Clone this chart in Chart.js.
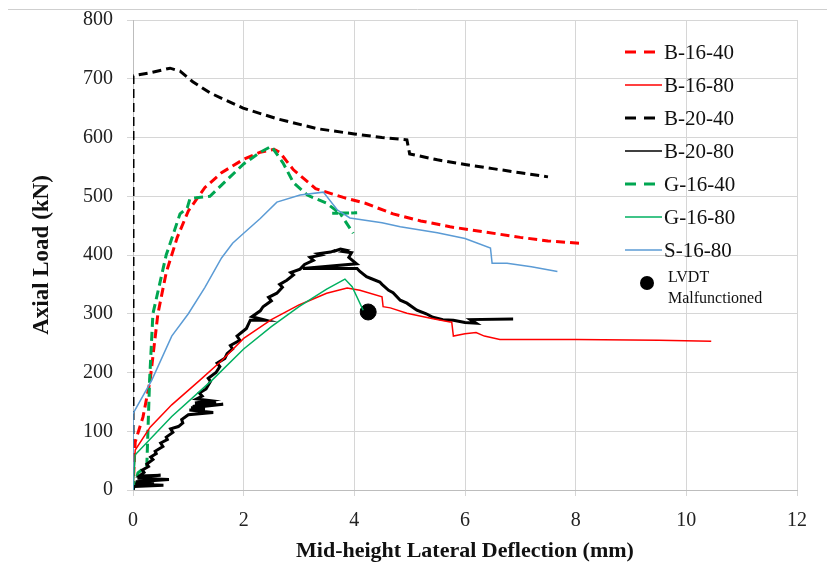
<!DOCTYPE html>
<html>
<head>
<meta charset="utf-8">
<script src="https://cdn.jsdelivr.net/npm/chart.js@4/dist/chart.umd.min.js"></script>
<style>
  body { margin: 0; background: #fff; }
  #wrap { width: 827px; height: 570px; }
</style>
</head>
<body>
<div id="wrap"><canvas id="loadChart" width="827" height="570"></canvas></div>
<script>
// axis ticks
const xTicks = [0, 2, 4, 6, 8, 10, 12];
const yTicks = [0, 100, 200, 300, 400, 500, 600, 700, 800];

// B-16-40 (red dashed)
const b1640X = [0, 0.04, 0.18, 0.31, 0.45, 0.6, 0.8, 1.0, 1.3, 1.6, 2.0, 2.3, 2.55, 2.65, 2.9, 3.3, 3.8, 4.2, 4.7, 5.2, 5.73, 6.3, 7.0, 7.5, 8.08];
const b1640Y = [0, 82, 124, 187, 300, 370, 430, 475, 515, 540, 563, 575, 580, 575, 545, 513, 498, 488, 470, 458, 448, 440, 430, 424, 420];

// B-16-80 (red solid)
const b1680X = [0, 0.04, 0.31, 0.7, 1.21, 1.6, 2.0, 2.5, 3.0, 3.5, 3.87, 4.1, 4.5, 4.52, 4.65, 4.95, 5.4, 5.73, 5.76, 5.79, 6.0, 6.2, 6.35, 6.63, 8.0, 9.5, 10.45];
const b1680Y = [0, 68, 107, 145, 187, 220, 258, 290, 315, 335, 344, 340, 329, 312, 310, 301, 292, 286, 286, 262, 266, 268, 262, 256, 256, 255, 253];

// B-20-40 (black dashed)
const b2040X = [0, 0, 0.3, 0.67, 0.85, 1.08, 1.39, 1.99, 2.6, 3.33, 4.0, 4.5, 4.95, 5.0, 5.5, 6.0, 6.5, 7.0, 7.5];
const b2040Y = [0, 705, 710, 718, 713, 695, 676, 650, 632, 615, 606, 600, 596, 572, 562, 554, 547, 540, 533];

// B-20-80 (black solid, noisy record)
const b2080X = [0, 0.02, 0.55, 0.04, 0.38, 0.05, 0.65, 0.08, 0.3, 0.1, 0.5, 0.12, 0.2, 0.17, 0.28, 0.25, 0.36, 0.32, 0.42, 0.4, 0.54, 0.5, 0.62, 0.6, 0.72, 0.68, 0.82, 0.9, 0.88, 1.0, 1.45, 1.02, 1.3, 1.05, 1.63, 1.08, 1.5, 1.12, 1.4, 1.15, 1.25, 1.2, 1.32, 1.4, 1.36, 1.5, 1.57, 1.52, 1.66, 1.7, 1.8, 1.76, 1.93, 1.88, 2.05, 2.12, 2.4, 2.15, 2.3, 2.35, 2.5, 2.45, 2.6, 2.7, 2.65, 2.78, 2.9, 2.85, 3.02, 3.1, 3.26, 3.2, 3.4, 3.35, 3.57, 3.66, 3.62, 3.75, 3.85, 3.8, 3.95, 3.9, 4.04, 3.07, 4.05, 4.1, 4.22, 4.3, 4.46, 4.5, 4.62, 4.7, 4.83, 4.95, 5.13, 5.3, 5.42, 5.6, 5.79, 6.0, 6.2, 6.1, 6.87];
const b2080Y = [0, 6, 8, 10, 12, 14, 18, 20, 21, 22, 25, 24, 30, 34, 40, 44, 52, 56, 62, 66, 74, 80, 86, 90, 98, 104, 108, 114, 120, 128, 132, 136, 138, 140, 146, 142, 150, 148, 152, 155, 160, 165, 172, 185, 190, 200, 210, 216, 224, 232, 240, 246, 255, 262, 275, 289, 289, 295, 305, 312, 322, 328, 335, 345, 350, 357, 366, 370, 376, 384, 391, 396, 400, 402, 405, 408, 406, 410, 408, 406, 404, 396, 385, 377, 377, 372, 363, 360, 354, 350, 340, 336, 323, 318, 306, 300, 294, 290, 289, 285, 284, 290, 291];

// G-16-40 (green dashed)
const g1640X = [0, 0.09, 0.25, 0.3, 0.36, 0.6, 0.85, 0.98, 1.03, 1.39, 1.7, 2.0, 2.3, 2.5, 2.71, 2.9, 3.15, 3.5, 3.74, 3.6, 4.05, 3.75, 3.98];
const g1640Y = [0, 29, 42, 187, 300, 400, 470, 480, 496, 500, 528, 555, 575, 585, 557, 523, 502, 488, 471, 471, 472, 470, 437];

// G-16-80 (green solid)
const g1680X = [0, 0.04, 0.7, 1.43, 2.0, 2.5, 3.0, 3.5, 3.83, 3.96, 4.16];
const g1680Y = [0, 60, 125, 187, 240, 278, 312, 342, 359, 346, 306];

// S-16-80 (blue)
const s1680X = [0, 0, 0.34, 0.7, 1.0, 1.3, 1.6, 1.8, 2.0, 2.3, 2.6, 3.02, 3.44, 3.69, 3.92, 4.5, 4.83, 5.5, 6.0, 6.46, 6.49, 6.76, 7.2, 7.67];
const s1680Y = [0, 130, 187, 262, 300, 345, 395, 420, 437, 462, 490, 502, 507, 477, 463, 455, 448, 438, 428, 412, 386, 386, 380, 372];

// LVDT malfunction marker
const lvdtX = [4.25];
const lvdtY = [303];

function pts(xs, ys) {
    return xs.map((x, i) => ({ x: x, y: ys[i] }));
}

const legendItems = [
    { label: 'B-16-40', color: '#ff0000', dashed: true },
    { label: 'B-16-80', color: '#ff0000', dashed: false },
    { label: 'B-20-40', color: '#000000', dashed: true },
    { label: 'B-20-80', color: '#000000', dashed: false },
    { label: 'G-16-40', color: '#00a651', dashed: true },
    { label: 'G-16-80', color: '#00b060', dashed: false },
    { label: 'S-16-80', color: '#5b9bd5', dashed: false }
];

const legendPlugin = {
    id: 'sideLegend',
    beforeDraw(chart) {
        const ctx = chart.ctx;
        ctx.save();
        ctx.fillStyle = '#fff';
        ctx.fillRect(0, 0, chart.width, chart.height);
        ctx.strokeStyle = '#cfcfcf';
        ctx.lineWidth = 1;
        ctx.beginPath();
        ctx.moveTo(8, 9.5);
        ctx.lineTo(827, 9.5);
        ctx.stroke();
        ctx.restore();
    },
    afterDraw(chart) {
        const ctx = chart.ctx;
        ctx.save();
        ctx.font = '21px "Liberation Serif"';
        ctx.textBaseline = 'middle';
        legendItems.forEach((item, i) => {
            const y = 52 + i * 33;
            ctx.strokeStyle = item.color;
            ctx.lineWidth = item.dashed ? 3 : 1.5;
            ctx.setLineDash(item.dashed ? [11, 8] : []);
            ctx.beginPath();
            ctx.moveTo(625, y);
            ctx.lineTo(662, y);
            ctx.stroke();
            ctx.setLineDash([]);
            ctx.fillStyle = '#111';
            ctx.fillText(item.label, 664, y + 1);
        });
        ctx.beginPath();
        ctx.fillStyle = '#000';
        ctx.arc(647, 283, 7, 0, Math.PI * 2);
        ctx.fill();
        ctx.font = '16px "Liberation Serif"';
        ctx.fillStyle = '#111';
        ctx.fillText('LVDT', 668, 278);
        ctx.fillText('Malfunctioned', 668, 299);
        ctx.restore();
    }
};

function lineSet(label, data, color, dash, width) {
    return {
        label: label,
        data: data,
        showLine: true,
        borderColor: color,
        backgroundColor: color,
        borderDash: dash,
        borderWidth: width,
        pointRadius: 0,
        tension: 0,
        fill: false
    };
}

const ctx = document.getElementById('loadChart').getContext('2d');
const loadChart = new Chart(ctx, {
    type: 'scatter',
    data: {
        datasets: [
            lineSet('S-16-80', pts(s1680X, s1680Y), '#5b9bd5', [], 1.5),
            lineSet('G-16-80', pts(g1680X, g1680Y), '#00b060', [], 1.5),
            lineSet('B-16-80', pts(b1680X, b1680Y), '#ff0000', [], 1.5),
            lineSet('B-20-80', pts(b2080X, b2080Y), '#000000', [], 3),
            lineSet('G-16-40', pts(g1640X, g1640Y), '#00a651', [9, 5], 3),
            lineSet('B-16-40', pts(b1640X, b1640Y), '#ff0000', [9, 5], 3),
            lineSet('B-20-40', pts(b2040X, b2040Y), '#000000', [9, 5], 3),
            {
                label: 'LVDT Malfunctioned',
                data: pts(lvdtX, lvdtY),
                pointRadius: 8,
                pointBackgroundColor: '#000',
                pointBorderColor: '#000'
            }
        ]
    },
    options: {
        responsive: false,
        animation: false,
        layout: { padding: { top: 20, right: 30, left: 0, bottom: 0 } },
        plugins: {
            legend: { display: false },
            tooltip: { enabled: false }
        },
        scales: {
            x: {
                type: 'linear',
                min: 0,
                max: 12,
                afterBuildTicks: (scale) => { scale.ticks = xTicks.map(v => ({ value: v })); },
                afterFit: (scale) => { scale.height = 80; },
                ticks: { color: '#222', font: { family: 'Liberation Serif', size: 20 }, padding: 13 },
                grid: { color: '#d6d6d6', tickLength: 6 },
                border: { color: '#bdbdbd' },
                title: {
                    display: true,
                    text: 'Mid-height Lateral Deflection (mm)',
                    color: '#111',
                    font: { family: 'Liberation Serif', size: 22, weight: 'bold' },
                    padding: { top: 0, bottom: 5 }
                }
            },
            y: {
                type: 'linear',
                min: 0,
                max: 800,
                afterBuildTicks: (scale) => { scale.ticks = yTicks.map(v => ({ value: v })); },
                afterFit: (scale) => {
                    scale.width = 133;
                    scale.paddingTop = 0;
                    scale.paddingBottom = 0;
                },
                ticks: { color: '#222', font: { family: 'Liberation Serif', size: 20 }, padding: 14 },
                grid: { color: '#d6d6d6', tickLength: 6 },
                border: { color: '#bdbdbd' },
                title: {
                    display: true,
                    text: 'Axial Load (kN)',
                    color: '#111',
                    font: { family: 'Liberation Serif', size: 23, weight: 'bold' },
                    padding: { top: 28, bottom: 0 }
                }
            }
        }
    },
    plugins: [legendPlugin]
});
</script>
</body>
</html>
